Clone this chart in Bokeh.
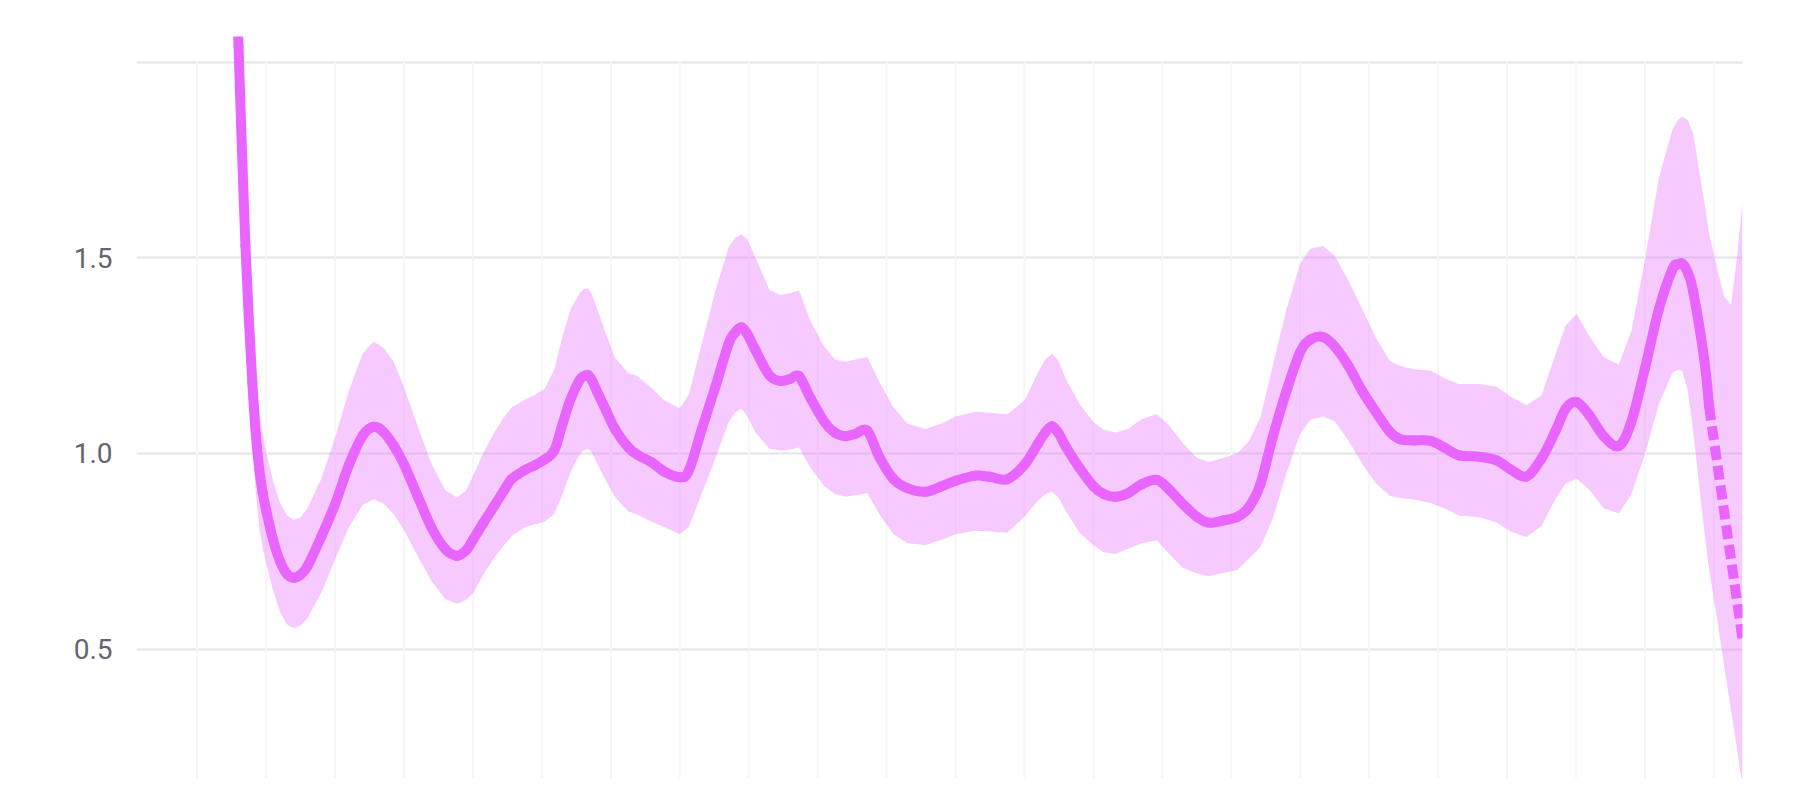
from bokeh.plotting import figure
from bokeh.models import Range1d, FixedTicker, PrintfTickFormatter
from bokeh.embed import file_html
from bokeh.resources import INLINE

# ---- data ----
band_x = [0.50, 0.55, 0.60, 0.65, 0.70, 0.75, 0.80, 0.85, 0.90, 0.95, 1.00, 1.10, 1.20, 1.30, 1.40,
          1.50, 1.60, 1.80, 2.00, 2.20, 2.40, 2.56, 2.70, 2.85, 3.00, 3.20, 3.40, 3.60, 3.77, 3.90,
          4.00, 4.15, 4.31, 4.45, 4.56, 4.75, 4.90, 5.04, 5.18, 5.30, 5.42, 5.55, 5.61, 5.67, 5.73, 5.80, 5.93,
          6.06, 6.25, 6.39, 6.59, 6.78, 7.00, 7.13, 7.32, 7.52, 7.71, 7.80, 7.89, 7.98, 8.10, 8.30, 8.46, 8.60,
          8.73, 8.90, 9.10, 9.25, 9.40, 9.55, 9.72, 9.90, 10.10, 10.30, 10.56, 10.80, 11.00, 11.29, 11.50,
          11.75, 12.00, 12.20, 12.30, 12.40, 12.50, 12.60, 12.80, 13.00, 13.15, 13.32, 13.50, 13.70, 13.92, 14.10, 14.30,
          14.50, 14.67, 14.90, 15.09, 15.25, 15.42, 15.60, 15.80, 16.00, 16.15, 16.33, 16.50, 16.70, 16.90,
          17.10, 17.30, 17.45, 17.65, 17.89, 18.10, 18.30, 18.61, 18.85, 19.05, 19.28, 19.50, 19.70, 19.85,
          20.01, 20.20, 20.40, 20.62, 20.80, 21.00, 21.20, 21.40, 21.47, 21.54, 21.62, 21.70, 21.86, 21.93,
          22.05, 22.15, 22.25, 22.33, 22.415]

mean_y = [2.60, 2.32, 2.04, 1.77, 1.53, 1.34, 1.18, 1.05, 0.96, 0.90, 0.855, 0.78, 0.725, 0.692, 0.682,
          0.690, 0.712, 0.787, 0.870, 0.970, 1.045, 1.068, 1.055, 1.020, 0.972, 0.890, 0.810, 0.755, 0.738, 0.752,
          0.779, 0.822, 0.866, 0.905, 0.934, 0.957, 0.970, 0.984, 1.007, 1.075, 1.140, 1.188, 1.197, 1.200, 1.185, 1.158, 1.110,
          1.062, 1.016, 0.996, 0.977, 0.953, 0.939, 0.955, 1.062, 1.172, 1.281, 1.308, 1.322, 1.305, 1.263, 1.199, 1.185, 1.190,
          1.197, 1.140, 1.080, 1.053, 1.044, 1.050, 1.058, 0.989, 0.934, 0.911, 0.902, 0.916, 0.930, 0.943, 0.940,
          0.934, 0.971, 1.026, 1.053, 1.069, 1.050, 1.017, 0.962, 0.916, 0.896, 0.889, 0.898, 0.921, 0.932, 0.907, 0.870,
          0.838, 0.823, 0.829, 0.838, 0.861, 0.920, 1.041, 1.159, 1.259, 1.291, 1.297, 1.273, 1.223, 1.159,
          1.105, 1.055, 1.036, 1.033, 1.032, 1.014, 0.995, 0.991, 0.982, 0.959, 0.941, 0.987, 1.056, 1.114,
          1.131, 1.096, 1.044, 1.019, 1.079, 1.217, 1.367, 1.471, 1.482, 1.485, 1.462, 1.413, 1.240, 1.120]
mean_last_x = [21.93, 22.415]      # incomplete final period (dashed)
mean_last = [1.120, 0.525]

upper_y = [2.75, 2.47, 2.19, 1.92, 1.68, 1.49, 1.33, 1.20, 1.11, 1.05, 1.005, 0.93, 0.875, 0.842, 0.830,
           0.836, 0.860, 0.935, 1.040, 1.160, 1.255, 1.286, 1.270, 1.235, 1.169, 1.068, 0.973, 0.906, 0.887, 0.905,
           0.943, 1.000, 1.053, 1.092, 1.117, 1.137, 1.150, 1.165, 1.215, 1.300, 1.370, 1.410, 1.420, 1.422, 1.405, 1.370, 1.305,
           1.245, 1.205, 1.197, 1.167, 1.135, 1.115, 1.150, 1.281, 1.418, 1.527, 1.550, 1.559, 1.548, 1.500, 1.418, 1.404, 1.410,
           1.416, 1.336, 1.272, 1.240, 1.234, 1.240, 1.246, 1.181, 1.117, 1.076, 1.062, 1.076, 1.094, 1.106, 1.104,
           1.100, 1.135, 1.208, 1.240, 1.255, 1.235, 1.190, 1.126, 1.080, 1.060, 1.053, 1.062, 1.088, 1.100, 1.071, 1.026,
           0.989, 0.978, 0.989, 1.000, 1.030, 1.090, 1.223, 1.368, 1.486, 1.523, 1.530, 1.505, 1.441, 1.368,
           1.295, 1.236, 1.223, 1.215, 1.212, 1.191, 1.177, 1.177, 1.170, 1.145, 1.123, 1.148, 1.252, 1.327,
           1.356, 1.298, 1.246, 1.227, 1.310, 1.494, 1.702, 1.829, 1.850, 1.860, 1.852, 1.817, 1.644, 1.563,
           1.471, 1.400, 1.379, 1.494, 1.642]

lower_y = [2.45, 2.17, 1.89, 1.62, 1.38, 1.19, 1.03, 0.90, 0.81, 0.76, 0.720, 0.65, 0.595, 0.563, 0.553,
           0.560, 0.579, 0.643, 0.729, 0.811, 0.868, 0.883, 0.872, 0.845, 0.804, 0.737, 0.673, 0.628, 0.615, 0.625,
           0.642, 0.690, 0.734, 0.765, 0.788, 0.811, 0.819, 0.825, 0.845, 0.895, 0.953, 0.998, 1.008, 1.012, 1.000, 0.975, 0.930,
           0.889, 0.852, 0.843, 0.825, 0.811, 0.793, 0.811, 0.898, 0.989, 1.080, 1.103, 1.115, 1.095, 1.053, 1.012, 1.007, 1.010,
           1.015, 0.962, 0.916, 0.896, 0.889, 0.893, 0.898, 0.843, 0.793, 0.770, 0.766, 0.779, 0.793, 0.802, 0.800,
           0.797, 0.838, 0.880, 0.895, 0.902, 0.885, 0.852, 0.797, 0.765, 0.747, 0.743, 0.756, 0.770, 0.777, 0.743, 0.707,
           0.693, 0.686, 0.695, 0.702, 0.730, 0.760, 0.832, 0.950, 1.050, 1.086, 1.094, 1.082, 1.032, 0.973,
           0.923, 0.891, 0.886, 0.882, 0.873, 0.859, 0.841, 0.836, 0.823, 0.800, 0.786, 0.814, 0.883, 0.923,
           0.935, 0.906, 0.860, 0.846, 0.894, 0.998, 1.125, 1.206, 1.213, 1.212, 1.160, 1.056, 0.802, 0.705,
           0.572, 0.456, 0.340, 0.250, 0.150]

mean_x = band_x[:len(mean_y)]
day_ticks = list(range(0, 23))
y_ticks = [0.5, 1.0, 1.5]
y_grid_ticks = [0.5, 1.0, 1.5, 2.0]

LINE = "#e866ff"


def smooth_segments(xs, ys):
    """Catmull-Rom control points so the mean is drawn as a smooth curve through the read values."""
    n = len(xs)
    out = {k: [] for k in ("x0", "y0", "x1", "y1", "cx0", "cy0", "cx1", "cy1")}
    for i in range(n - 1):
        xa, ya = (xs[i - 1], ys[i - 1]) if i > 0 else (xs[i], ys[i])
        xd, yd = (xs[i + 2], ys[i + 2]) if i + 2 < n else (xs[i + 1], ys[i + 1])
        out["x0"].append(xs[i]); out["y0"].append(ys[i])
        out["x1"].append(xs[i + 1]); out["y1"].append(ys[i + 1])
        out["cx0"].append(xs[i] + (xs[i + 1] - xa) / 6.0)
        out["cy0"].append(ys[i] + (ys[i + 1] - ya) / 6.0)
        out["cx1"].append(xs[i + 1] - (xd - xs[i]) / 6.0)
        out["cy1"].append(ys[i + 1] - (yd - ys[i]) / 6.0)
    return out


p = figure(width=1795, height=778, output_backend="svg", toolbar_location=None,
           x_range=Range1d(-0.88, 22.415), y_range=Range1d(0.1691, 2.0652),
           min_border_left=136, min_border_right=53, min_border_top=36, min_border_bottom=0)
p.outline_line_color = None
p.background_fill_color = "white"
p.border_fill_color = "white"

# vertical (day) grid lines, drawn only up to the top horizontal grid line
p.xgrid.visible = False
p.segment(x0=day_ticks, x1=day_ticks, y0=[0.0] * len(day_ticks), y1=[2.0] * len(day_ticks),
          line_color="#f6f6f8", line_width=2)

p.ygrid.ticker = FixedTicker(ticks=y_grid_ticks)
p.ygrid.grid_line_color = "#e4e4e7"
p.ygrid.grid_line_width = 2

p.xaxis.visible = False
ax = p.yaxis[0]
ax.ticker = FixedTicker(ticks=y_ticks)
ax.formatter = PrintfTickFormatter(format="%.1f")
ax.axis_line_color = None
ax.major_tick_line_color = None
ax.minor_tick_line_color = None
ax.major_tick_out = 0
ax.major_tick_in = 0
ax.major_label_standoff = 24
ax.major_label_text_font = "Roboto"
ax.major_label_text_font_size = "28px"
ax.major_label_text_color = "#65656f"

p.varea(x=band_x, y1=lower_y, y2=upper_y, fill_color=LINE, fill_alpha=0.35)
seg = smooth_segments(mean_x, mean_y)
p.bezier(x0=seg["x0"], y0=seg["y0"], x1=seg["x1"], y1=seg["y1"],
         cx0=seg["cx0"], cy0=seg["cy0"], cx1=seg["cx1"], cy1=seg["cy1"],
         line_color=LINE, line_width=10, line_cap="round")
p.line(mean_last_x, mean_last, line_color=LINE, line_width=10, line_dash="14 6", line_cap="butt")

open("out.html", "w").write(file_html(p, INLINE))
